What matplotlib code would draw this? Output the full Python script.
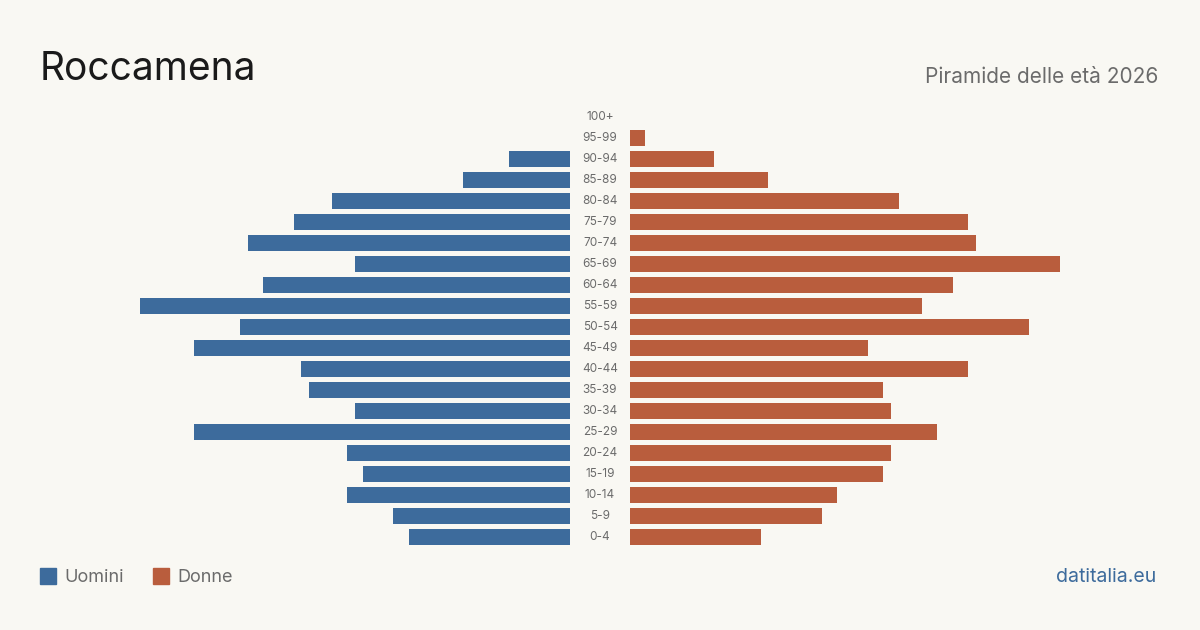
import matplotlib
matplotlib.use("Agg")
import matplotlib.pyplot as plt
from matplotlib.patches import Rectangle

# Data (age groups from youngest to oldest)
age_groups = ["0-4", "5-9", "10-14", "15-19", "20-24", "25-29", "30-34", "35-39",
              "40-44", "45-49", "50-54", "55-59", "60-64", "65-69", "70-74",
              "75-79", "80-84", "85-89", "90-94", "95-99", "100+"]
uomini = [21, 23, 29, 27, 29, 49, 28, 34, 35, 49, 43, 56, 40, 28, 42, 36, 31, 14, 8, 0, 0]
donne  = [17, 25, 27, 33, 34, 40, 34, 33, 44, 31, 52, 38, 42, 56, 45, 44, 35, 18, 11, 2, 0]

BG = "#f9f8f3"
BLUE = "#3d6b9c"
ORANGE = "#b95d3d"
GRAY = "#6b6b6b"

plt.rcParams["font.family"] = ["Inter", "DejaVu Sans"]

fig = plt.figure(figsize=(12, 6.3), dpi=100, facecolor=BG)
W, H = 1200, 630

vmax = max(max(uomini), max(donne))
y0_px, y1_px = 547.5, 106.5
bottom = (H - y0_px) / H
height = (y0_px - y1_px) / H

ax_l = fig.add_axes([140 / W, bottom, 430 / W, height])
ax_r = fig.add_axes([630 / W, bottom, 430 / W, height])

ys = list(range(len(age_groups)))
ax_l.barh(ys, uomini, height=0.8, color=BLUE)
ax_r.barh(ys, donne, height=0.8, color=ORANGE)
ax_l.set_xlim(vmax, 0)
ax_r.set_xlim(0, vmax)

for ax in (ax_l, ax_r):
    ax.set_ylim(-0.5, len(age_groups) - 0.5)
    ax.set_facecolor("none")
    ax.axis("off")

# age labels in the centre gap
for i, lab in enumerate(age_groups):
    ypx = 537 - i * 21
    fig.text(600 / W, (H - ypx) / H, lab, ha="center", va="center",
             fontsize=8.5, color=GRAY)

fig.text(40 / W, (H - 80) / H, "Roccamena", fontsize=28, color="#1a1a1a",
         ha="left", va="baseline")
fig.text(1158 / W, (H - 83) / H, "Piramide delle età 2026", fontsize=15,
         color=GRAY, ha="right", va="baseline")

# legend
for x, col, lab in [(40, BLUE, "Uomini"), (153, ORANGE, "Donne")]:
    fig.patches.append(Rectangle((x / W, (H - 584) / H), 16 / W, 16 / H,
                                 transform=fig.transFigure, color=col))
    fig.text((x + 24) / W, (H - 582) / H, lab, fontsize=13, color=GRAY,
             ha="left", va="baseline")

fig.text(1156 / W, (H - 582) / H, "datitalia.eu", fontsize=14, color=BLUE,
         ha="right", va="baseline")

fig.savefig("out.png", dpi=100, facecolor=BG)
